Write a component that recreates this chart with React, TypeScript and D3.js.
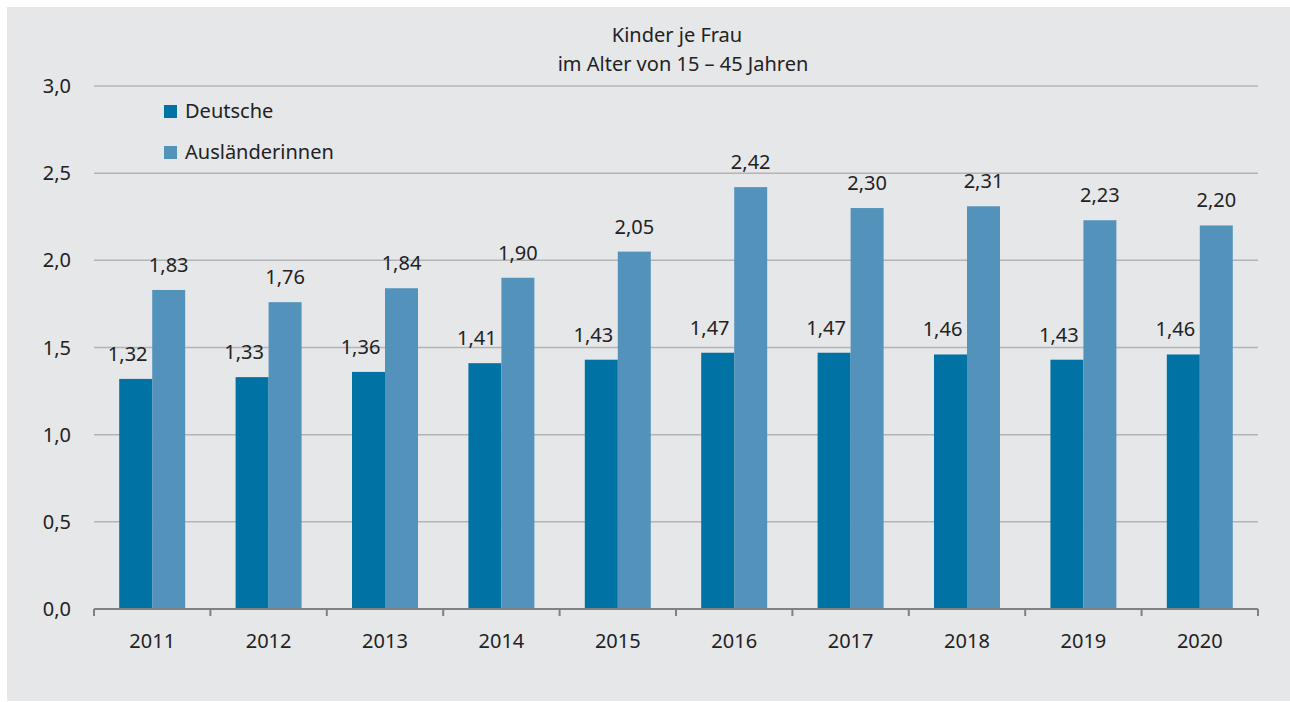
import React from 'react';
import * as d3 from 'd3';

const years = ['2011', '2012', '2013', '2014', '2015', '2016', '2017', '2018', '2019', '2020'];
const seriesNames = ['Deutsche', 'Ausländerinnen'];
const deutsche = [1.32, 1.33, 1.36, 1.41, 1.43, 1.47, 1.47, 1.46, 1.43, 1.46];
const auslaenderinnen = [1.83, 1.76, 1.84, 1.90, 2.05, 2.42, 2.30, 2.31, 2.23, 2.20];
const yTicks = [0, 0.5, 1.0, 1.5, 2.0, 2.5, 3.0];
const titleLines = ['Kinder je Frau', 'im Alter von 15 – 45 Jahren'];

const W = 1290;
const H = 702;
const colors = ['#0072a3', '#5393bb'];
const textColor = '#222222';
const font = '"Noto Sans", "Open Sans", sans-serif';

const de = d3.formatLocale({decimal: ',', thousands: '.', grouping: [3], currency: ['', ' €']});
const fmt1 = de.format('.1f');
const fmt2 = de.format('.2f');

const App: React.FC = () => {
    const x = d3.scaleBand<string>().domain(years).range([94, 1258]).padding(0);
    const x1 = d3.scaleBand<string>()
        .domain(seriesNames)
        .range([0, x.bandwidth()])
        .paddingInner(0)
        .paddingOuter(0.764);
    const y = d3.scaleLinear().domain([0, 3]).range([609, 86]);

    const data = years.map((yr, i) => ({
        year: yr,
        values: [deutsche[i], auslaenderinnen[i]],
    }));

    const [x0, xEnd] = x.range();
    const tickXs = [...years.map(yr => x(yr) as number), xEnd];

    return (
        <div style={{position: 'absolute', left: 0, top: 0}}>
            <svg width={W} height={H} style={{display: 'block', fontFamily: font}}>
                <rect x={0} y={0} width={W} height={H} fill="#ffffff"/>
                <rect x={7} y={7} width={W - 7} height={H - 8} fill="#e6e7e9"/>

                {/* title */}
                <text x={677} y={42} textAnchor="middle" fontSize={20} fill={textColor}>{titleLines[0]}</text>
                <text x={683} y={71} textAnchor="middle" fontSize={20} fill={textColor}>{titleLines[1]}</text>

                {/* gridlines + y labels */}
                {yTicks.map(t => (
                    <g key={t}>
                        {t > 0 && (
                            <line x1={x0} x2={xEnd} y1={y(t)} y2={y(t)} stroke="#b3b4b6" strokeWidth={1.5}/>
                        )}
                        <text x={71} y={y(t)} dy="0.35em" textAnchor="end" fontSize={20} fill={textColor}>
                            {fmt1(t)}
                        </text>
                    </g>
                ))}

                {/* bars */}
                {data.map(d => (
                    <g key={d.year} transform={`translate(${x(d.year)},0)`}>
                        {d.values.map((v, j) => (
                            <rect
                                key={j}
                                x={x1(seriesNames[j])}
                                y={y(v)}
                                width={x1.bandwidth()}
                                height={y(0) - y(v)}
                                fill={colors[j]}
                            />
                        ))}
                    </g>
                ))}

                {/* value labels */}
                {data.map(d => (
                    <g key={'l' + d.year} transform={`translate(${x(d.year)},0)`}>
                        {d.values.map((v, j) => (
                            <text
                                key={j}
                                x={(x1(seriesNames[j]) as number) + x1.bandwidth() / 2 + (j === 0 ? -8 : 0)}
                                y={y(v) - 18}
                                textAnchor="middle"
                                fontSize={20}
                                fill={textColor}
                            >
                                {fmt2(v)}
                            </text>
                        ))}
                    </g>
                ))}

                {/* x axis */}
                <line x1={x0} x2={xEnd} y1={y(0)} y2={y(0)} stroke="#808184" strokeWidth={2}/>
                {tickXs.map((tx, i) => (
                    <line key={i} x1={tx} x2={tx} y1={y(0)} y2={y(0) + 7} stroke="#808184" strokeWidth={2}/>
                ))}
                {years.map(yr => (
                    <text
                        key={yr}
                        x={(x(yr) as number) + x.bandwidth() / 2}
                        y={648}
                        textAnchor="middle"
                        fontSize={20}
                        fill={textColor}
                    >
                        {yr}
                    </text>
                ))}

                {/* legend */}
                {seriesNames.map((s, i) => (
                    <g key={s} transform={`translate(164,${105 + i * 41})`}>
                        <rect x={0} y={0} width={13} height={13} fill={colors[i]}/>
                        <text x={21} y={13} fontSize={20} fill={textColor}>{s}</text>
                    </g>
                ))}
            </svg>
        </div>
    );
};

export default App;
